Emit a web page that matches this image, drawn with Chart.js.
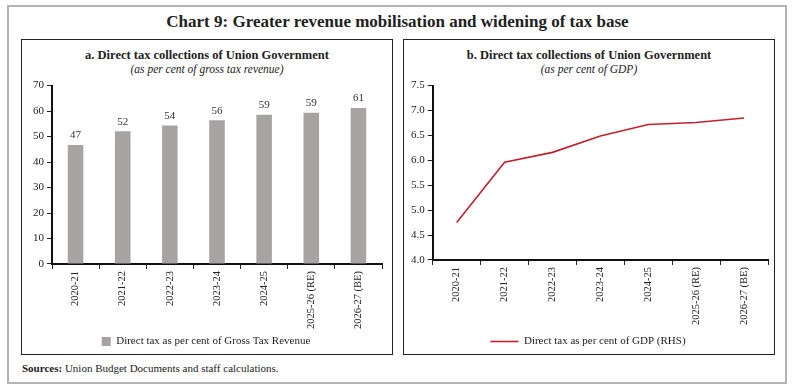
<!DOCTYPE html>
<html>
<head>
<meta charset="utf-8">
<script src="https://cdn.jsdelivr.net/npm/chart.js@4"></script>
<style>
  body { margin: 0; background: #fff; font-family: 'Liberation Serif', serif; color: #222; }
  #frame { position: absolute; left: 7px; top: 5px; width: 776px; height: 375px; border: 2px solid #b3b3b3; }
  #title { position: absolute; left: 0; top: 12px; width: 795px; text-align: center; font-weight: bold; font-size: 17px; }
  .panel { position: absolute; top: 39px; height: 314px; border: 1px solid #222; }
  #panelA { left: 21px; width: 370px; }
  #panelB { left: 403px; width: 370px; }
  .ptitle { position: absolute; left: 0; width: 100%; top: 8px; text-align: center; font-weight: bold; font-size: 12.5px; }
  .psub { position: absolute; left: 0; width: 100%; top: 23px; text-align: center; font-style: italic; font-size: 11.5px; }
  .cwrap { position: absolute; left: 0; top: 36px; width: 370px; height: 283px; }
  #sources { position: absolute; left: 22px; top: 362px; font-size: 11px; }
</style>
</head>
<body>
<div id="frame"></div>
<div id="title">Chart 9: Greater revenue mobilisation and widening of tax base</div>

<div class="panel" id="panelA">
  <div class="ptitle">a. Direct tax collections of Union Government</div>
  <div class="psub">(as per cent of gross tax revenue)</div>
  <div class="cwrap"><canvas id="chartA"></canvas></div>
</div>

<div class="panel" id="panelB">
  <div class="ptitle">b. Direct tax collections of Union Government</div>
  <div class="psub">(as per cent of GDP)</div>
  <div class="cwrap"><canvas id="chartB"></canvas></div>
</div>

<div id="sources"><b>Sources:</b> Union Budget Documents and staff calculations.</div>

<script>
const years = ['2020-21', '2021-22', '2022-23', '2023-24', '2024-25', '2025-26 (RE)', '2026-27 (BE)'];
const taxShareOfGTR = [46.7, 52.1, 54.3, 56.4, 58.6, 59.3, 61.2];
const taxShareOfGDP = [4.75, 5.96, 6.16, 6.49, 6.72, 6.76, 6.85];

Chart.defaults.font.family = "'Liberation Serif', serif";
Chart.defaults.font.size = 11;
Chart.defaults.color = '#222';

// draws the value on top of each bar
const barLabels = {
  id: 'barLabels',
  afterDatasetsDraw(chart) {
    const ctx = chart.ctx;
    const meta = chart.getDatasetMeta(0);
    ctx.save();
    ctx.font = "11px 'Liberation Serif', serif";
    ctx.fillStyle = '#333';
    ctx.textAlign = 'center';
    ctx.textBaseline = 'bottom';
    meta.data.forEach((bar, i) => {
      ctx.fillText(Math.round(chart.data.datasets[0].data[i]), bar.x, bar.y - 4);
    });
    ctx.restore();
  }
};

const axisX = {
  grid: { drawOnChartArea: false, drawTicks: true, tickLength: 5, color: '#222', offset: true },
  border: { display: true, color: '#111', width: 2 },
  ticks: { minRotation: 90, maxRotation: 90, autoSkip: false, padding: 2, font: { size: 10.5 } },
  offset: true
};

new Chart(document.getElementById('chartA'), {
  type: 'bar',
  data: {
    labels: years,
    datasets: [{
      label: 'Direct tax as per cent of Gross Tax Revenue',
      data: taxShareOfGTR,
      backgroundColor: '#a7a3a3',
      barPercentage: 0.33,
      categoryPercentage: 1.0
    }]
  },
  options: {
    responsive: true,
    maintainAspectRatio: false,
    animation: false,
    layout: { padding: { left: 8, right: 10, top: 4, bottom: 2 } },
    plugins: {
      legend: {
        position: 'bottom',
        labels: { boxWidth: 9, boxHeight: 9, padding: 5, color: '#222', font: { size: 11 } }
      },
      tooltip: { enabled: false }
    },
    scales: {
      x: axisX,
      y: {
        min: 0, max: 70,
        ticks: { stepSize: 10, padding: 3 },
        grid: { drawOnChartArea: false, drawTicks: true, tickLength: 5, color: '#222' },
        border: { display: true, color: '#111', width: 2 }
      }
    }
  },
  plugins: [barLabels]
});

new Chart(document.getElementById('chartB'), {
  type: 'line',
  data: {
    labels: years,
    datasets: [{
      label: 'Direct tax as per cent of GDP (RHS)',
      data: taxShareOfGDP,
      borderColor: '#c3202f',
      backgroundColor: '#c3202f',
      borderWidth: 1.6,
      pointRadius: 0,
      tension: 0
    }]
  },
  options: {
    responsive: true,
    maintainAspectRatio: false,
    animation: false,
    layout: { padding: { left: 4, right: 6, top: 2, bottom: 2 } },
    plugins: {
      legend: {
        position: 'bottom',
        labels: { usePointStyle: true, pointStyle: 'line', pointStyleWidth: 28, padding: 9, color: '#222', font: { size: 11 } }
      },
      tooltip: { enabled: false }
    },
    scales: {
      x: axisX,
      y: {
        min: 4.0, max: 7.5,
        ticks: { stepSize: 0.5, padding: 3, callback: v => v.toFixed(1) },
        grid: { drawOnChartArea: false, drawTicks: true, tickLength: 5, color: '#222' },
        border: { display: true, color: '#111', width: 2 }
      }
    }
  }
});
</script>
</body>
</html>
